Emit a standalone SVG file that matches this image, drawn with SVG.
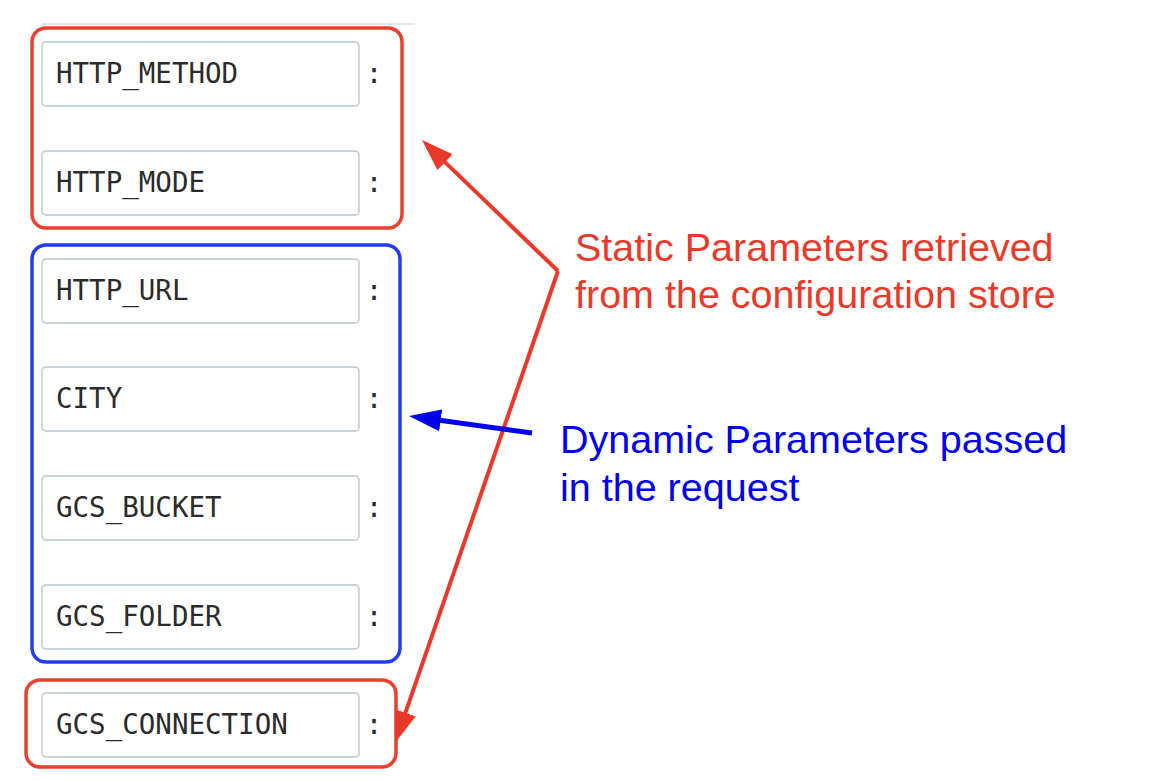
<svg xmlns="http://www.w3.org/2000/svg" width="1156" height="780" viewBox="0 0 1156 780">
<style>
.field{fill:#fff;stroke:#c9d2dc;stroke-width:1.8}
.ft{font-family:"DejaVu Sans Mono",monospace;font-size:27.5px;fill:#2b2b2b}
.colon{font-family:"DejaVu Sans Mono",monospace;font-size:27.5px;fill:#2b2b2b;text-anchor:middle}
.redbox{fill:none;stroke:#e9402c;stroke-width:3.5}
.bluebox{fill:none;stroke:#1e3cf5;stroke-width:3.5}
.lbl{font-family:"Liberation Sans",Arial,sans-serif;font-size:39.5px}
.red{fill:#e9392a}
.blue{fill:#0000ee}
</style>
<defs>
<marker id="ahr" markerUnits="userSpaceOnUse" markerWidth="34" markerHeight="24" refX="12" refY="11" orient="auto">
<path d="M0,0 L32,11 L0,22 z" fill="#e9392a"/>
</marker>
<marker id="ahb" markerUnits="userSpaceOnUse" markerWidth="34" markerHeight="24" refX="12" refY="11" orient="auto">
<path d="M0,0 L32,11 L0,22 z" fill="#0000ee"/>
</marker>
</defs>
<rect width="1156" height="780" fill="#fff"/>
<line x1="42" y1="24" x2="415" y2="24" stroke="#dddddd" stroke-width="1.5"/>

<g id="static-group-1">
<rect class="redbox" x="32" y="28" width="370" height="200" rx="14"/>
</g>
<g id="dynamic-group">
<rect class="bluebox" x="32" y="245" width="368" height="417" rx="14"/>
</g>
<g id="static-group-2">
<rect class="redbox" x="26" y="680" width="370" height="87" rx="14"/>
</g>

<g id="field-http-method">
<rect class="field" x="42" y="42" width="317" height="64" rx="4"/>
<text class="ft" x="56" y="83">HTTP_METHOD</text>
<text class="colon" x="374" y="83">:</text>
</g>
<g id="field-http-mode">
<rect class="field" x="42" y="151" width="317" height="64" rx="4"/>
<text class="ft" x="56" y="192">HTTP_MODE</text>
<text class="colon" x="374" y="192">:</text>
</g>
<g id="field-http-url">
<rect class="field" x="42" y="259" width="317" height="64" rx="4"/>
<text class="ft" x="56" y="300">HTTP_URL</text>
<text class="colon" x="374" y="300">:</text>
</g>
<g id="field-city">
<rect class="field" x="42" y="367" width="317" height="64" rx="4"/>
<text class="ft" x="56" y="408">CITY</text>
<text class="colon" x="374" y="408">:</text>
</g>
<g id="field-gcs-bucket">
<rect class="field" x="42" y="476" width="317" height="64" rx="4"/>
<text class="ft" x="56" y="517">GCS_BUCKET</text>
<text class="colon" x="374" y="517">:</text>
</g>
<g id="field-gcs-folder">
<rect class="field" x="42" y="585" width="317" height="64" rx="4"/>
<text class="ft" x="56" y="626">GCS_FOLDER</text>
<text class="colon" x="374" y="626">:</text>
</g>
<g id="field-gcs-connection">
<rect class="field" x="42" y="693" width="317" height="64" rx="4"/>
<text class="ft" x="56" y="734">GCS_CONNECTION</text>
<text class="colon" x="374" y="734">:</text>
</g>

<g id="label-static">
<text class="lbl red" x="575" y="261">Static Parameters retrieved</text>
<text class="lbl red" x="575" y="308">from the configuration store</text>
</g>
<g id="label-dynamic">
<text class="lbl blue" x="560" y="453">Dynamic Parameters passed</text>
<text class="lbl blue" x="560" y="501">in the request</text>
</g>

<g id="connectors" fill="none">
<path d="M558,271 L436.4,153.9" stroke="#e9392a" stroke-width="4" marker-end="url(#ahr)"/>
<path d="M558,271 L401.5,724.1" stroke="#e9392a" stroke-width="4" marker-end="url(#ahr)"/>
<path d="M532,433 L428.8,418.7" stroke="#0000ee" stroke-width="5" marker-end="url(#ahb)"/>
</g>
</svg>
